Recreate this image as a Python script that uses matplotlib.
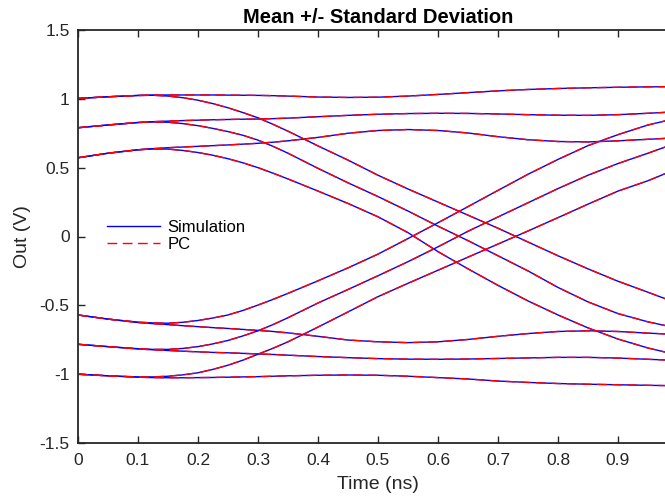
import matplotlib
matplotlib.use("Agg")
import matplotlib.pyplot as plt

plt.rcParams['font.family'] = ['Liberation Sans', 'DejaVu Sans']

# time axis (ns)
t = [0, 0.05, 0.1, 0.125, 0.15, 0.175, 0.2, 0.225, 0.25, 0.275, 0.3, 0.325, 0.35,
     0.4, 0.45, 0.5, 0.55, 0.6, 0.65, 0.7, 0.75, 0.8, 0.85, 0.9, 0.95, 0.98]

# mean +/- std traces (V)
top_flat = [1.003, 1.015, 1.025, 1.027, 1.028, 1.028, 1.028, 1.028, 1.027, 1.026, 1.025, 1.023, 1.02,
            1.013, 1.01, 1.012, 1.02, 1.032, 1.045, 1.058, 1.068, 1.075, 1.08, 1.084, 1.087, 1.088]
mid_flat = [0.79, 0.81, 0.828, 0.834, 0.838, 0.842, 0.845, 0.848, 0.85, 0.852, 0.853, 0.856, 0.86,
            0.87, 0.88, 0.888, 0.893, 0.895, 0.894, 0.89, 0.885, 0.881, 0.88, 0.885, 0.895, 0.902]
low_flat = [0.572, 0.605, 0.63, 0.638, 0.645, 0.65, 0.655, 0.66, 0.665, 0.671, 0.677, 0.685, 0.695,
            0.72, 0.75, 0.77, 0.777, 0.77, 0.752, 0.725, 0.703, 0.69, 0.687, 0.695, 0.706, 0.713]
top_fall = [1.003, 1.015, 1.024, 1.026, 1.02, 1.008, 0.99, 0.965, 0.935, 0.9, 0.862, 0.815, 0.765,
            0.658, 0.555, 0.445, 0.345, 0.25, 0.155, 0.06, -0.04, -0.14, -0.235, -0.325, -0.405, -0.454]
mid_fall = [0.79, 0.81, 0.828, 0.832, 0.83, 0.82, 0.805, 0.785, 0.762, 0.735, 0.7, 0.655, 0.605,
            0.495, 0.39, 0.29, 0.185, 0.075, -0.03, -0.14, -0.25, -0.37, -0.475, -0.56, -0.62, -0.648]
low_fall = [0.572, 0.605, 0.63, 0.636, 0.635, 0.625, 0.61, 0.59, 0.565, 0.535, 0.5, 0.46, 0.418,
            0.33, 0.24, 0.143, 0.028, -0.11, -0.235, -0.355, -0.468, -0.57, -0.664, -0.745, -0.81, -0.841]
bot_flat = [-1.0, -1.012, -1.022, -1.025, -1.026, -1.026, -1.025, -1.024, -1.022, -1.02, -1.018, -1.015, -1.012,
            -1.008, -1.006, -1.008, -1.015, -1.025, -1.035, -1.05, -1.06, -1.068, -1.073, -1.077, -1.081, -1.083]
mid_flat_n = [-0.783, -0.8, -0.817, -0.823, -0.828, -0.833, -0.838, -0.842, -0.845, -0.849, -0.853, -0.857, -0.862,
              -0.872, -0.88, -0.887, -0.891, -0.892, -0.89, -0.886, -0.882, -0.878, -0.878, -0.883, -0.892, -0.897]
low_flat_n = [-0.57, -0.6, -0.625, -0.633, -0.64, -0.648, -0.655, -0.662, -0.668, -0.675, -0.682, -0.69, -0.7,
              -0.725, -0.752, -0.765, -0.771, -0.765, -0.748, -0.725, -0.705, -0.69, -0.685, -0.69, -0.702, -0.708]
bot_rise = [-1.0, -1.012, -1.02, -1.02, -1.015, -1.005, -0.99, -0.965, -0.935, -0.898, -0.855, -0.812, -0.765,
            -0.658, -0.548, -0.437, -0.34, -0.245, -0.15, -0.055, 0.04, 0.137, 0.235, 0.33, 0.405, 0.459]
mid_rise = [-0.783, -0.8, -0.815, -0.82, -0.82, -0.813, -0.8, -0.78, -0.755, -0.722, -0.685, -0.64, -0.59,
            -0.483, -0.385, -0.285, -0.183, -0.075, 0.038, 0.142, 0.245, 0.348, 0.445, 0.53, 0.605, 0.652]
low_rise = [-0.57, -0.6, -0.622, -0.628, -0.63, -0.623, -0.61, -0.592, -0.57, -0.537, -0.498, -0.457, -0.413,
            -0.322, -0.228, -0.128, -0.015, 0.1, 0.217, 0.335, 0.452, 0.56, 0.66, 0.74, 0.81, 0.841]

sim = [top_flat, mid_flat, low_flat, top_fall, mid_fall, low_fall,
       bot_flat, mid_flat_n, low_flat_n, bot_rise, mid_rise, low_rise]
pc = sim  # PC expansion lies on top of the simulation

fig = plt.figure(figsize=(6.65, 4.97), dpi=100)
ax = fig.add_axes([78 / 665, 54 / 497, 600 / 665, 413 / 497])

for i, y in enumerate(sim):
    ax.plot(t, y, color='#0000ff', lw=1.0, label='Simulation' if i == 0 else None)
for i, y in enumerate(pc):
    ax.plot(t, y, color='#ff0000', lw=1.0, ls=(0, (7, 4)), label='PC' if i == 0 else None)

ax.set_xlim(0, 1)
ax.set_ylim(-1.5, 1.5)
ax.set_xticks([0, 0.1, 0.2, 0.3, 0.4, 0.5, 0.6, 0.7, 0.8, 0.9])
ax.set_xticklabels(['0', '0.1', '0.2', '0.3', '0.4', '0.5', '0.6', '0.7', '0.8', '0.9'])
ax.set_yticks([-1.5, -1, -0.5, 0, 0.5, 1, 1.5])
ax.set_yticklabels(['-1.5', '-1', '-0.5', '0', '0.5', '1', '1.5'])
ax.tick_params(direction='in', length=5, width=1.0, colors='#262626', labelsize=12.5,
               top=True, right=True)
ax.tick_params(axis='x', pad=7)
ax.tick_params(axis='y', pad=6)
for s in ax.spines.values():
    s.set_color('#262626')
    s.set_linewidth(1.3)

ax.set_xlabel('Time (ns)', fontsize=14, color='#262626', labelpad=6)
ax.set_ylabel('Out (V)', fontsize=14, color='#262626', labelpad=6)
ax.set_title('Mean +/- Standard Deviation', fontsize=14.5, fontweight='bold', pad=5)

ax.legend(loc='center left', bbox_to_anchor=(0.034, 0.502), frameon=False, fontsize=12,
          handlelength=3.2, handletextpad=0.45, labelspacing=0.1, borderpad=0)

fig.savefig('out.png', dpi=100)
